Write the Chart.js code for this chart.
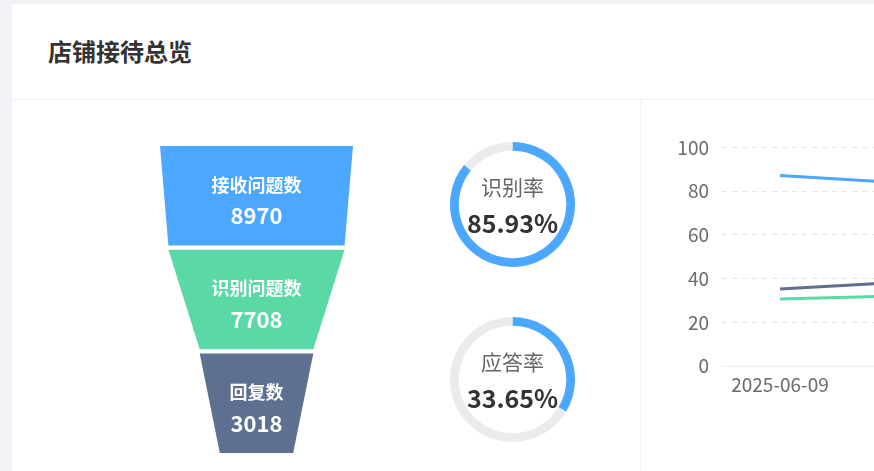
<!DOCTYPE html>
<html>
<head>
<meta charset="utf-8">
<script src="https://cdn.jsdelivr.net/npm/chart.js@4.4.1/dist/chart.umd.min.js"></script>
<style>
html,body{margin:0;padding:0;width:874px;height:471px;overflow:hidden;background:#f0f2f5;font-family:"Noto Sans CJK SC","Noto Sans",sans-serif}
.card{position:absolute;left:12px;top:4px;width:1000px;height:600px;background:#fff}
.head{position:absolute;left:0;top:0;right:0;height:95px;border-bottom:1px solid #ebedf0}
.title{position:absolute;left:36px;top:34px;line-height:26px;font-size:24px;font-weight:bold;color:#333}
.vline{position:absolute;left:628px;top:96px;width:1px;height:500px;background:#f2f3f5}
.box{position:absolute}
</style>
</head>
<body>
<div class="card">
  <div class="head"><div class="title">店铺接待总览</div></div>
  <div class="vline"></div>
</div>
<div class="box" style="left:136px;top:144px"><canvas id="funnel" width="241" height="311"></canvas></div>
<div class="box" style="left:450px;top:142px"><canvas id="rate0" width="125" height="125"></canvas></div>
<div class="box" style="left:450px;top:317px"><canvas id="rate1" width="125" height="125"></canvas></div>
<div class="box" style="left:660px;top:123px"><canvas id="trend" width="300" height="280"></canvas></div>

<script>
// funnel
const stageLabels = ['接收问题数', '识别问题数', '回复数']
const stageValues = [8970, 7708, 3018]
const stageColors = ['#4ba7ff', '#5ad8a6', '#5d7092']

// rings
const rateLabels = ['识别率', '应答率']
const rateValues = [85.93, 33.65]

// trend lines
const dates = ['2025-06-09', '2025-06-10']
const lineA = [87.2, 84.0]
const lineB = [35.3, 38.2]
const lineC = [30.7, 32.1]
const yTicks = [0, 20, 40, 60, 80, 100]

const FONT = '"Noto Sans CJK SC", "Noto Sans", sans-serif'

// ---------- funnel ----------
let maxV = Math.max(...stageValues)
function stageWidth(v) {
    return 0.38 + 0.62 * v / maxV
}
const gap = 0.02
let funnelSets = stageValues.map((v, i) => {
    let wt = stageWidth(v) / 2
    let next = i + 1 < stageValues.length ? stageValues[i + 1] : 0
    let wb = stageWidth(next) / 2
    return {
        data: [
            {x: -wt, y: i + gap},
            {x: wt, y: i + gap},
            {x: wb, y: i + 1 - gap},
            {x: -wb, y: i + 1 - gap}
        ],
        backgroundColor: stageColors[i],
        borderWidth: 0,
        pointRadius: 0,
        fill: 'shape',
        tension: 0
    }
})

const funnelText = {
    id: 'funnelText',
    afterDatasetsDraw(chart) {
        let ctx = chart.ctx
        let xs = chart.scales.x, ys = chart.scales.y
        ctx.save()
        ctx.fillStyle = '#fff'
        ctx.textAlign = 'center'
        ctx.textBaseline = 'middle'
        stageLabels.forEach((lab, i) => {
            let cx = xs.getPixelForValue(0)
            let cy = ys.getPixelForValue(i + 0.5)
            ctx.font = 'bold 18px ' + FONT
            ctx.fillText(lab, cx, cy - 11)
            ctx.font = 'bold 22px ' + FONT
            ctx.fillText(String(stageValues[i]), cx, cy + 20)
        })
        ctx.restore()
    }
}

new Chart('funnel', {
    type: 'line',
    data: {datasets: funnelSets},
    options: {
        responsive: false,
        animation: false,
        events: [],
        layout: {padding: 0},
        plugins: {legend: {display: false}, tooltip: {enabled: false}},
        scales: {
            x: {type: 'linear', min: -0.6244, max: 0.6244, display: false},
            y: {type: 'linear', min: 0, max: 3, reverse: true, display: false}
        }
    },
    plugins: [funnelText]
})

// ---------- rings ----------
const ringText = {
    id: 'ringText',
    afterDraw(chart) {
        let ctx = chart.ctx
        let a = chart.chartArea
        let cx = (a.left + a.right) / 2
        let cy = (a.top + a.bottom) / 2
        let i = chart.options.plugins.ringText.index
        ctx.save()
        ctx.textAlign = 'center'
        ctx.textBaseline = 'middle'
        ctx.fillStyle = '#666'
        ctx.font = '21px ' + FONT
        ctx.fillText(rateLabels[i], cx, cy - 17)
        ctx.fillStyle = '#333'
        ctx.font = 'bold 25px ' + FONT
        ctx.fillText(rateValues[i].toFixed(2) + '%', cx, cy + 19)
        ctx.restore()
    }
}

rateValues.forEach((r, i) => {
    new Chart('rate' + i, {
        type: 'doughnut',
        data: {
            labels: [rateLabels[i], ''],
            datasets: [{
                data: [r, 100 - r],
                backgroundColor: ['#4ba7ff', '#ebebeb'],
                borderWidth: 0
            }]
        },
        options: {
            responsive: false,
            animation: false,
            events: [],
            cutout: '86%',
            plugins: {legend: {display: false}, tooltip: {enabled: false}, ringText: {index: i}}
        },
        plugins: [ringText]
    })
})

// ---------- trend ----------
new Chart('trend', {
    type: 'line',
    data: {
        labels: dates,
        datasets: [
            {label: 'A', data: lineA, borderColor: '#4ba7ff'},
            {label: 'B', data: lineB, borderColor: '#5d7092'},
            {label: 'C', data: lineC, borderColor: '#5ad8a6'}
        ]
    },
    options: {
        responsive: false,
        animation: false,
        events: [],
        layout: {padding: {top: 7, right: 6, bottom: 0, left: 0}},
        elements: {
            line: {borderWidth: 3, tension: 0},
            point: {radius: 0}
        },
        plugins: {legend: {display: false}, tooltip: {enabled: false}},
        scales: {
            x: {
                offset: true,
                grid: {display: false, drawTicks: false},
                border: {display: false},
                ticks: {
                    color: '#6b6b6b', font: {size: 19, family: FONT}, padding: 7, maxRotation: 0, autoSkip: false,
                    // every other date label, like the original axis interval
                    callback: function(v, i) { return i % 2 === 0 ? this.getLabelForValue(v) : '' }
                }
            },
            y: {
                min: yTicks[0],
                max: yTicks[yTicks.length - 1],
                afterBuildTicks: (s) => { s.ticks = yTicks.map(v => ({value: v})) },
                afterFit: (s) => { s.width = 62 },
                grid: {color: (c) => c.tick && c.tick.value === 0 ? '#eeeeee' : '#e3e3e3', drawTicks: false, lineWidth: 1},
                border: {display: false, dash: (c) => c.tick && c.tick.value === 0 ? [] : [5, 5]},
                ticks: {color: '#6b6b6b', font: {size: 19, family: FONT}, padding: 13}
            }
        }
    }
})
</script>
</body>
</html>
